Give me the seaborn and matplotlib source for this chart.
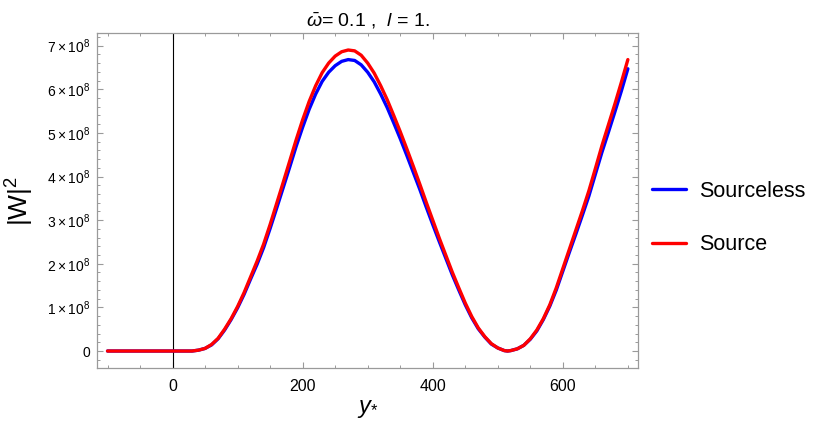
import numpy as np
import pandas as pd
import seaborn as sns
import matplotlib.pyplot as plt
from matplotlib.ticker import MultipleLocator, FuncFormatter

# values (|W|^2 in units of 1e8)
y_star = [-100, -80, -60, -40, -20, 0, 20, 30, 40, 50, 60, 70, 80, 90, 100,
          110, 120, 130, 140, 150, 160, 170, 180, 190, 200, 210, 220, 230, 240,
          250, 260, 270, 280, 290, 300, 310, 320, 330, 340, 350, 360, 370, 380,
          390, 400, 410, 420, 430, 440, 450, 460, 470, 480, 490, 500, 510, 515,
          520, 530, 540, 550, 560, 570, 580, 590, 600, 610, 620, 630, 640, 650,
          660, 670, 680, 690, 700]
sourceless = [0, 0, 0, 0, 0, 0, 0, 0, 0.02, 0.06, 0.14, 0.28, 0.48, 0.72, 0.99,
              1.30, 1.65, 1.99, 2.37, 2.81, 3.27, 3.74, 4.21, 4.69, 5.13, 5.54, 5.89, 6.18, 6.39,
              6.54, 6.64, 6.68, 6.66, 6.56, 6.39, 6.17, 5.89, 5.58, 5.23, 4.87, 4.49, 4.10, 3.71,
              3.30, 2.90, 2.51, 2.13, 1.75, 1.40, 1.06, 0.76, 0.51, 0.32, 0.16, 0.07, 0.01, 0.0,
              0.01, 0.05, 0.13, 0.27, 0.46, 0.72, 1.03, 1.40, 1.83, 2.26, 2.68, 3.11, 3.55, 4.05,
              4.55, 5.01, 5.48, 5.96, 6.47]
source = [0, 0, 0, 0, 0, 0, 0, 0, 0.02, 0.06, 0.15, 0.29, 0.50, 0.74, 1.02,
          1.34, 1.70, 2.06, 2.45, 2.90, 3.38, 3.86, 4.35, 4.84, 5.30, 5.72, 6.08, 6.38, 6.60,
          6.76, 6.86, 6.90, 6.88, 6.78, 6.60, 6.37, 6.08, 5.76, 5.40, 5.03, 4.64, 4.24, 3.83,
          3.41, 3.00, 2.59, 2.20, 1.81, 1.45, 1.10, 0.79, 0.53, 0.33, 0.17, 0.07, 0.01, 0.0,
          0.01, 0.05, 0.13, 0.28, 0.48, 0.74, 1.06, 1.45, 1.89, 2.33, 2.77, 3.21, 3.67, 4.18,
          4.70, 5.18, 5.66, 6.16, 6.68]
labels = ["Sourceless", "Source"]
colors = ["#0000ff", "#ff0000"]

sns.set_style("ticks")
plt.rcParams["font.family"] = ["Liberation Sans", "DejaVu Sans"]
plt.rcParams["mathtext.fontset"] = "custom"
plt.rcParams["mathtext.rm"] = "Liberation Sans"
plt.rcParams["mathtext.it"] = "Liberation Sans:italic"
plt.rcParams["text.color"] = "black"
plt.rcParams["axes.labelcolor"] = "black"
plt.rcParams["xtick.labelcolor"] = "black"
plt.rcParams["ytick.labelcolor"] = "black"

df = pd.DataFrame({
    "y": y_star * 2,
    "W2": np.array(sourceless + source) * 1e8,
    "case": [labels[0]] * len(y_star) + [labels[1]] * len(y_star),
})

fig = plt.figure(figsize=(8.3, 4.34), dpi=100)
ax = fig.add_axes([0.117, 0.153, 0.652, 0.770])

sns.lineplot(data=df, x="y", y="W2", hue="case", hue_order=labels,
             palette=colors, linewidth=2.4, ax=ax, sort=False)

ax.axvline(0, color="black", linewidth=0.8, zorder=1)

ax.set_xlim(-116, 716)
ax.set_ylim(-0.38e8, 7.28e8)

ax.xaxis.set_major_locator(MultipleLocator(200))
ax.xaxis.set_minor_locator(MultipleLocator(50))
ax.yaxis.set_major_locator(MultipleLocator(1e8))
ax.yaxis.set_minor_locator(MultipleLocator(0.2e8))


def sci(v, pos):
    n = int(round(v / 1e8))
    if n == 0:
        return "0"
    return r"$%d\times10^{8}$" % n


ax.yaxis.set_major_formatter(FuncFormatter(sci))

gray = "#9a9a9a"
for s in ax.spines.values():
    s.set_color(gray)
    s.set_linewidth(0.9)
ax.tick_params(which="both", direction="in", top=True, right=True, color=gray)
ax.tick_params(which="major", length=4, width=0.8)
ax.tick_params(which="minor", length=2.3, width=0.7)
ax.tick_params(axis="x", labelsize=11.5, pad=8)
ax.tick_params(axis="y", labelsize=10, pad=5)

ax.set_xlabel(r"$y_{*}$", fontsize=17, labelpad=3)
ax.set_ylabel(r"$|\mathrm{W}|^{2}$", fontsize=19, labelpad=8)
ax.set_title(r"$\bar{\omega}$= 0.1 ,  $l$ = 1.", fontsize=14, pad=5)

handles, labs = ax.get_legend_handles_labels()
ax.legend(handles, labs, loc="center left", frameon=False, fontsize=15.5,
          bbox_to_anchor=(652 / 830, 1 - 218 / 434), bbox_transform=fig.transFigure,
          borderaxespad=0, borderpad=0, handlelength=1.6, handletextpad=0.6,
          labelspacing=1.5)

fig.savefig("out.png", dpi=100)
